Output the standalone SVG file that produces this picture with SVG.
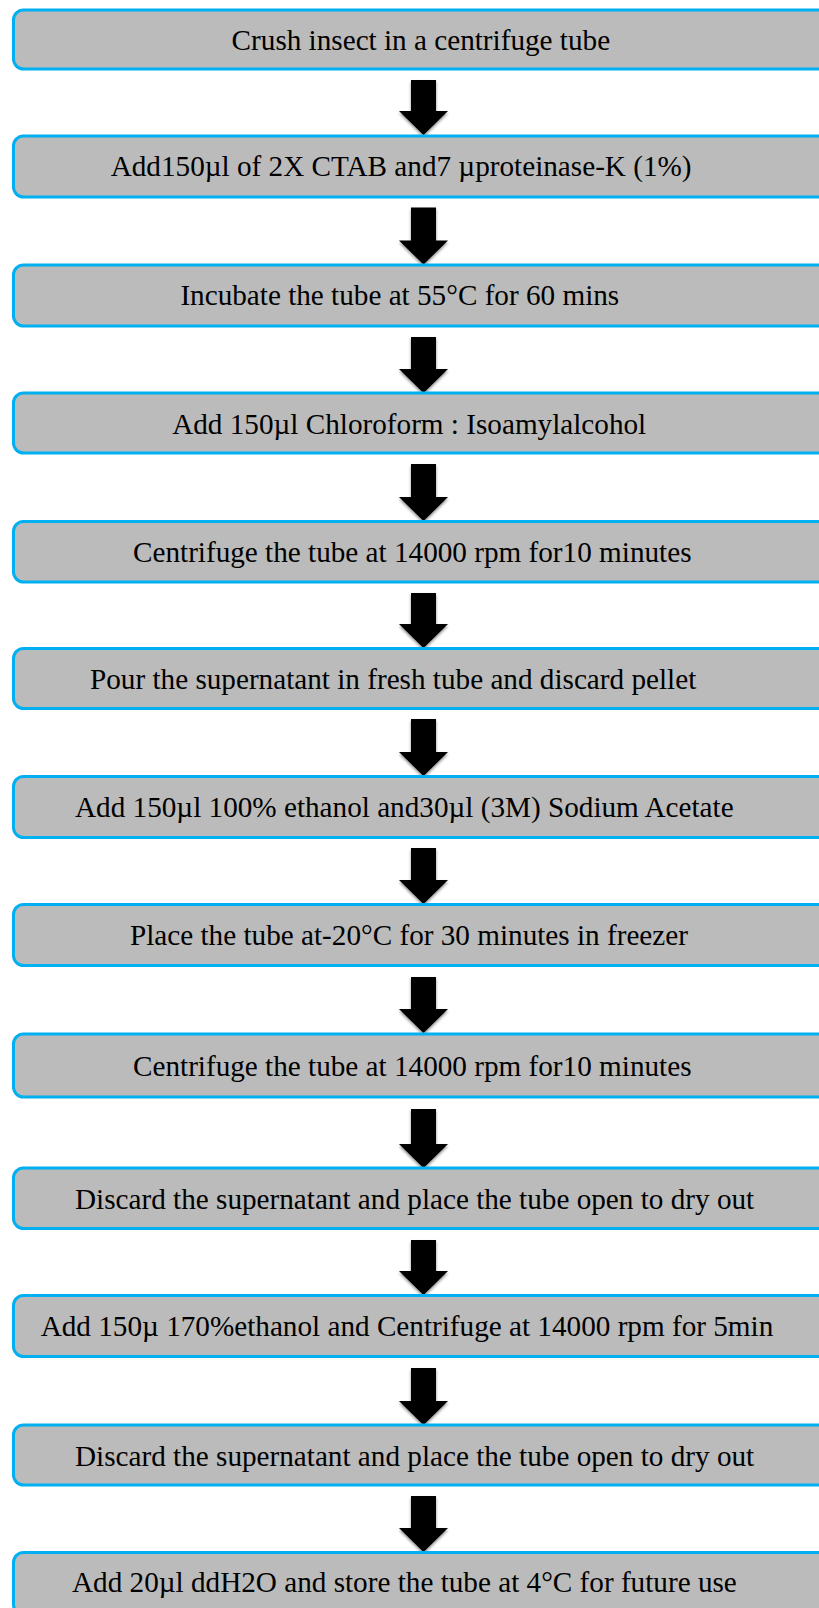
<svg xmlns="http://www.w3.org/2000/svg" width="819" height="1608" viewBox="0 0 819 1608">
<defs>
<style>
.box{fill:#BBBBBB;stroke:#00B0F0;stroke-width:3}
.lbl{font-family:"Liberation Serif","Times New Roman",serif;font-size:29.2px;fill:#000}
.arr{fill:#000;filter:url(#sh)}
</style>
<filter id="sh" x="-30%" y="-30%" width="160%" height="160%">
<feDropShadow dx="0" dy="2" stdDeviation="1.5" flood-color="#000" flood-opacity="0.45"/>
</filter>
</defs>
<rect width="819" height="1608" fill="#fff"/>
<g id="connectors">
<polygon class="arr" points="411,80 436,80 436,111 448,111 423.5,135 399,111 411,111"/>
<polygon class="arr" points="411,207.5 436,207.5 436,240.5 448,240.5 423.5,264.5 399,240.5 411,240.5"/>
<polygon class="arr" points="411,337 436,337 436,369 448,369 423.5,393 399,369 411,369"/>
<polygon class="arr" points="411,464 436,464 436,497 448,497 423.5,521 399,497 411,497"/>
<polygon class="arr" points="411,593 436,593 436,624 448,624 423.5,648 399,624 411,624"/>
<polygon class="arr" points="411,719 436,719 436,752 448,752 423.5,776 399,752 411,752"/>
<polygon class="arr" points="411,848 436,848 436,880 448,880 423.5,904 399,880 411,880"/>
<polygon class="arr" points="411,977 436,977 436,1009 448,1009 423.5,1033 399,1009 411,1009"/>
<polygon class="arr" points="411,1109 436,1109 436,1144 448,1144 423.5,1168 399,1144 411,1144"/>
<polygon class="arr" points="411,1240 436,1240 436,1271 448,1271 423.5,1295 399,1271 411,1271"/>
<polygon class="arr" points="411,1368 436,1368 436,1401 448,1401 423.5,1425 399,1401 411,1401"/>
<polygon class="arr" points="411,1496 436,1496 436,1528 448,1528 423.5,1552 399,1528 411,1528"/>
</g>
<g id="n1"><rect class="box" x="13.5" y="10" width="830" height="59" rx="10"/><text class="lbl" x="231.6" y="50.3">Crush insect in a centrifuge tube</text></g>
<g id="n2"><rect class="box" x="13.5" y="136" width="830" height="61" rx="10"/><text class="lbl" x="110.7" y="176.3">Add150µl of 2X CTAB and7 µproteinase-K (1%)</text></g>
<g id="n3"><rect class="box" x="13.5" y="265" width="830" height="61" rx="10"/><text class="lbl" x="180.4" y="305.4">Incubate the tube at 55°C for 60 mins</text></g>
<g id="n4"><rect class="box" x="13.5" y="393" width="830" height="60" rx="10"/><text class="lbl" x="172.2" y="433.9">Add 150µl Chloroform : Isoamylalcohol</text></g>
<g id="n5"><rect class="box" x="13.5" y="521.5" width="830" height="60.5" rx="10"/><text class="lbl" x="133" y="562">Centrifuge the tube at 14000 rpm for10 minutes</text></g>
<g id="n6"><rect class="box" x="13.5" y="648.5" width="830" height="60" rx="10"/><text class="lbl" x="90" y="689.1">Pour the supernatant in fresh tube and discard pellet</text></g>
<g id="n7"><rect class="box" x="13.5" y="776.5" width="830" height="61" rx="10"/><text class="lbl" x="75" y="817.2">Add 150µl 100% ethanol and30µl (3M) Sodium Acetate</text></g>
<g id="n8"><rect class="box" x="13.5" y="904.5" width="830" height="61" rx="10"/><text class="lbl" x="130" y="944.9">Place the tube at-20°C for 30 minutes in freezer</text></g>
<g id="n9"><rect class="box" x="13.5" y="1034" width="830" height="63" rx="10"/><text class="lbl" x="133" y="1075.5">Centrifuge the tube at 14000 rpm for10 minutes</text></g>
<g id="n10"><rect class="box" x="13.5" y="1168" width="830" height="60.5" rx="10"/><text class="lbl" x="75" y="1208.6">Discard the supernatant and place the tube open to dry out</text></g>
<g id="n11"><rect class="box" x="13.5" y="1295.5" width="830" height="61" rx="10"/><text class="lbl" x="40.7" y="1336.2">Add 150µ 170%ethanol and Centrifuge at 14000 rpm for 5min</text></g>
<g id="n12"><rect class="box" x="13.5" y="1425" width="830" height="60" rx="10"/><text class="lbl" x="75" y="1465.5">Discard the supernatant and place the tube open to dry out</text></g>
<g id="n13"><rect class="box" x="13.5" y="1552.5" width="830" height="62" rx="10"/><text class="lbl" x="72" y="1592">Add 20µl ddH2O and store the tube at 4°C for future use</text></g>
</svg>
